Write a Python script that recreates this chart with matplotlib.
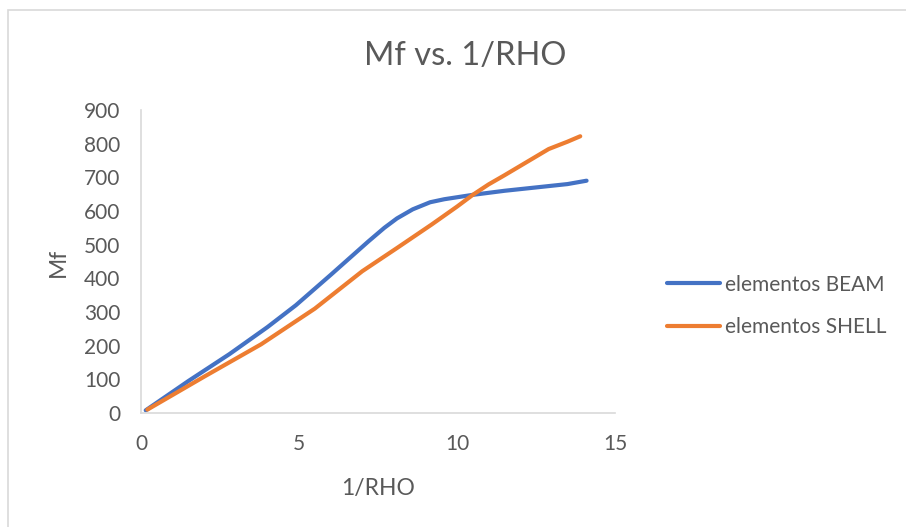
import matplotlib
matplotlib.use("Agg")
from matplotlib import pyplot as plt
from matplotlib.patches import Rectangle

# values
beam_x = [0.15, 1.5, 2.8, 4.0, 4.9, 6.0, 7.2, 7.7, 8.1, 8.6, 9.15, 9.6, 10.5, 11.5, 12.5, 13.5, 14.1]
beam_y = [8, 95, 175, 255, 320, 410, 510, 550, 578, 605, 626, 635, 648, 660, 670, 680, 690]

shell_x = [0.2, 2.0, 3.8, 5.5, 7.0, 8.1, 9.2, 10.0, 10.5, 11.0, 11.5, 12.2, 12.9, 13.5, 13.9]
shell_y = [10, 108, 204, 310, 421, 490, 560, 613, 648, 679, 706, 745, 784, 806, 822]

series_names = ["elementos BEAM", "elementos SHELL"]
colors = ["#4472C4", "#ED7D31"]
text_col = "#595959"
axis_col = "#D9D9D9"

plt.rcParams['font.family'] = ['Lato', 'DejaVu Sans']

W, H = 906, 527
fig = plt.figure(figsize=(W/100, H/100), dpi=100)
ax = fig.add_axes([141/W, (H-413)/H, (615-141)/W, (413-110)/H])

ax.plot(beam_x, beam_y, color=colors[0], lw=3, solid_capstyle='round', solid_joinstyle='round', label=series_names[0])
ax.plot(shell_x, shell_y, color=colors[1], lw=3, solid_capstyle='round', solid_joinstyle='round', label=series_names[1])

ax.set_xlim(0, 15)
ax.set_ylim(0, 900)
ax.set_xticks([0, 5, 10, 15])
ax.set_yticks(range(0, 1000, 100))
for s in ['top', 'right']:
    ax.spines[s].set_visible(False)
for s in ['left', 'bottom']:
    ax.spines[s].set_color(axis_col)
    ax.spines[s].set_linewidth(1.2)
ax.tick_params(length=0, labelsize=15, labelcolor=text_col)
ax.tick_params(axis='x', pad=15)
ax.tick_params(axis='y', pad=15)

ax.set_xlabel("1/RHO", fontsize=16.5, color=text_col, va='center')
ax.set_ylabel("Mf", fontsize=16.5, color=text_col, va='center')
ax.xaxis.set_label_coords(378/W, 1-488/H, transform=fig.transFigure)
ax.yaxis.set_label_coords(58/W, 1-262/H, transform=fig.transFigure)
fig.text(465/W, 1-56/H, "Mf vs. 1/RHO", ha='center', va='center', fontsize=23.5, color=text_col)

leg = ax.legend(loc='center left', bbox_to_anchor=(667/W, 1-306/H), bbox_transform=fig.transFigure,
                frameon=False, borderpad=0, borderaxespad=0,
                fontsize=15, labelcolor=text_col, handlelength=2.55, handletextpad=0.25,
                labelspacing=1.1)

# chart border
fig.patches.append(Rectangle((8/W, -0.1), 1.1, (H-10)/H + 0.1, transform=fig.transFigure,
                             fill=False, edgecolor=axis_col, lw=1.2))

fig.savefig("out.png", dpi=100)
